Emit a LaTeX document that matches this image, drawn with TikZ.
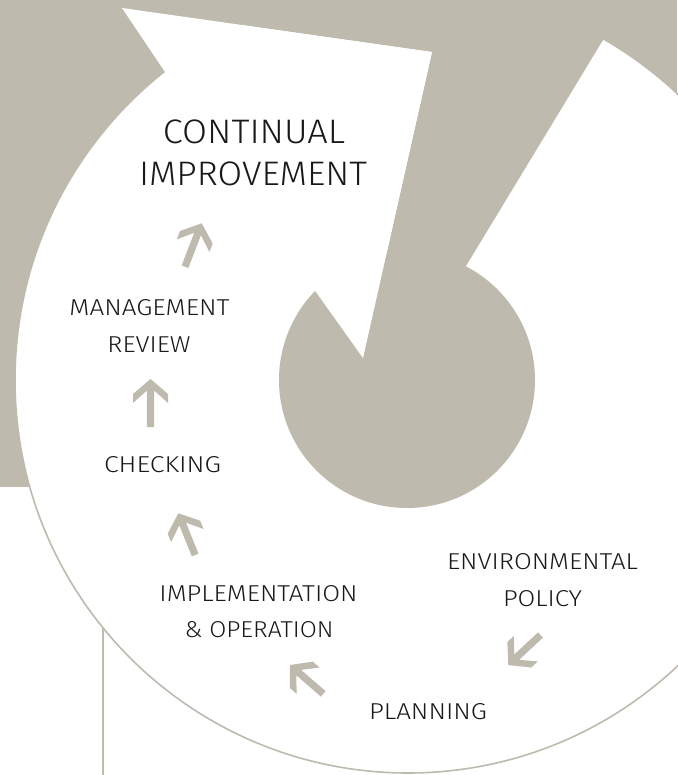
\documentclass[tikz,border=0pt]{standalone}
\usepackage{fontspec}
\IfFontExistsTF{Fira Sans Light}{\setmainfont{Fira Sans Light}}{\setmainfont{Fira Sans}}
\usepackage{graphicx}
\definecolor{bg}{RGB}{190,186,174}
\definecolor{ink}{RGB}{25,25,25}
\newcommand\fitw[2]{\resizebox{#1pt}{\height}{#2}}
\newcommand\grayarrow[4]{\fill[bg, shift={(#1,#2)}, rotate=#3] (0,0) -- (-15,17.5) -- (-24,17.5) -- (-11.5,3.6) -- (-#4,3.6) -- (-#4,-3.6) -- (-11.5,-3.6) -- (-24,-17.5) -- (-15,-17.5) -- cycle;}
\begin{document}
\begin{tikzpicture}[x=1pt,y=-1pt,
  small/.style={font=\fontsize{23}{23}\selectfont, text=ink, anchor=base, inner sep=0pt},
  big/.style={font=\fontsize{34}{34}\selectfont, text=ink, anchor=base, inner sep=0pt}]
\useasboundingbox (0,0) rectangle (677,775);
% background
\fill[bg] (0,0) rectangle (677,487);
% big white circle with outline
\coordinate (c) at (408,380);
\fill[white] (c) circle (393);
\draw[bg, line width=1.6pt] (c) circle (393);
% gray band connecting centre to top
\fill[bg] (122,0) -- (122,8) -- (432,52) -- (363,358) -- (407,380) -- (466,266) -- (603,40) -- (627,0) -- cycle;
% gray centre disc
\fill[bg] (407,380) circle (128);
% white arrowhead of the spiral
\fill[white] (122,8) -- (432,52) -- (363,358) -- (316,292) -- (165,72) -- cycle;
% vertical line
\coordinate (vtop) at (103,627.8);
\coordinate (vbot) at (103,775);
\draw[bg, line width=2pt] (vtop) -- (vbot);
% labels
\node[big] (ci1) at (254,143.5) {\fitw{182}{CONTINUAL}};
\node[big] (ci2) at (253,186) {\fitw{228}{IMPROVEMENT}};
\node[small] (mr1) at (149.5,315) {\fitw{160}{MANAGEMENT}};
\node[small] (mr2) at (149,352) {\fitw{83}{REVIEW}};
\node[small] (chk) at (162.5,472.7) {\fitw{117}{CHECKING}};
\node[small] (io1) at (258.5,601.7) {\fitw{198}{IMPLEMENTATION}};
\node[small] (io2) at (259,637) {\fitw{149}{\&\ OPERATION}};
\node[small] (ep1) at (542.5,569) {\fitw{191}{ENVIRONMENTAL}};
\node[small] (ep2) at (542.5,606) {\fitw{79}{POLICY}};
\node[small] (pln) at (428,719) {\fitw{118}{PLANNING}};
% gray arrows
\grayarrow{201.7}{223.3}{69}{46.5}
\grayarrow{150.5}{379}{90}{48}
\grayarrow{178.3}{513.3}{112}{45}
\grayarrow{290}{665}{139}{44}
\grayarrow{508.3}{665}{223}{44}
\end{tikzpicture}
\end{document}
